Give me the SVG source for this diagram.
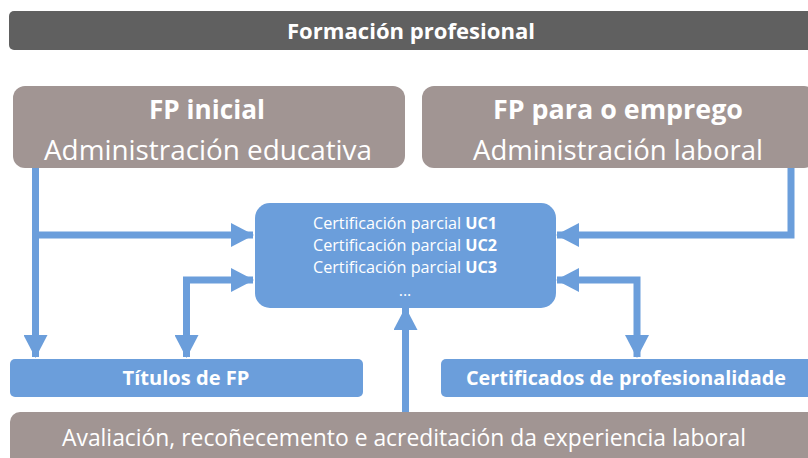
<svg xmlns="http://www.w3.org/2000/svg" width="808" height="458" viewBox="0 0 808 458">
<defs>
<style>
.t{font-family:"Open Sans","Liberation Sans",sans-serif;fill:#fff;text-anchor:middle}
.b{font-weight:bold}
.dark{fill:#606060}
.taupe{fill:#a19593}
.blue{fill:#6b9edb}
.line{fill:none;stroke:#6b9edb;stroke-width:7}
</style>
<marker id="ah" viewBox="0 0 23 24" refX="22" refY="12" markerWidth="23" markerHeight="24" markerUnits="userSpaceOnUse" orient="auto-start-reverse">
<path d="M0,0 L23,12 L0,24 Z" fill="#6b9edb"/>
</marker>
</defs>
<g id="header">
<rect class="dark" x="9" y="11" width="806" height="39" rx="5"/>
<text class="t b" x="411" y="39" font-size="22" textLength="248" lengthAdjust="spacingAndGlyphs">Formación profesional</text>
</g>
<g id="fp-inicial">
<rect class="taupe" x="13" y="86" width="392" height="82" rx="12"/>
<text class="t b" x="207" y="119" font-size="27" textLength="116" lengthAdjust="spacingAndGlyphs">FP inicial</text>
<text class="t" x="208" y="160" font-size="28" textLength="328" lengthAdjust="spacingAndGlyphs">Administración educativa</text>
</g>
<g id="fp-emprego">
<rect class="taupe" x="422" y="86" width="394" height="82" rx="12"/>
<text class="t b" x="618" y="119" font-size="27" textLength="250" lengthAdjust="spacingAndGlyphs">FP para o emprego</text>
<text class="t" x="618" y="160" font-size="28" textLength="290" lengthAdjust="spacingAndGlyphs">Administración laboral</text>
</g>
<g id="certificacion">
<rect class="blue" x="255" y="203" width="301" height="105" rx="15"/>
<text class="t" x="405" y="229" font-size="16" textLength="184" lengthAdjust="spacingAndGlyphs">Certificación parcial <tspan class="b">UC1</tspan></text>
<text class="t" x="405" y="251" font-size="16" textLength="184" lengthAdjust="spacingAndGlyphs">Certificación parcial <tspan class="b">UC2</tspan></text>
<text class="t" x="405" y="273" font-size="16" textLength="184" lengthAdjust="spacingAndGlyphs">Certificación parcial <tspan class="b">UC3</tspan></text>
<text class="t" x="405" y="296" font-size="16">...</text>
</g>
<g id="titulos">
<rect class="blue" x="10" y="359" width="353" height="38" rx="5"/>
<text class="t b" x="186" y="385" font-size="19" textLength="127" lengthAdjust="spacingAndGlyphs">Títulos de FP</text>
</g>
<g id="certificados">
<rect class="blue" x="441" y="359" width="375" height="38" rx="5"/>
<text class="t b" x="626" y="385" font-size="19" textLength="320" lengthAdjust="spacingAndGlyphs">Certificados de profesionalidade</text>
</g>
<g id="connectors">
<path class="line" d="M35.5,168 V357" marker-end="url(#ah)"/>
<path class="line" d="M35.5,235 H253" marker-end="url(#ah)"/>
<path class="line" d="M186.5,357 V280 H253" marker-start="url(#ah)" marker-end="url(#ah)"/>
<path class="line" d="M791,168 V235 H557" marker-end="url(#ah)"/>
<path class="line" d="M557,280 H637 V357" marker-start="url(#ah)" marker-end="url(#ah)"/>
<path class="line" d="M405.5,420 V308" marker-end="url(#ah)"/>
</g>
<g id="avaliacion">
<rect class="taupe" x="10" y="412" width="808" height="60" rx="10"/>
<text class="t" x="404" y="446" font-size="24" textLength="684" lengthAdjust="spacingAndGlyphs">Avaliación, recoñecemento e acreditación da experiencia laboral</text>
</g>
</svg>
